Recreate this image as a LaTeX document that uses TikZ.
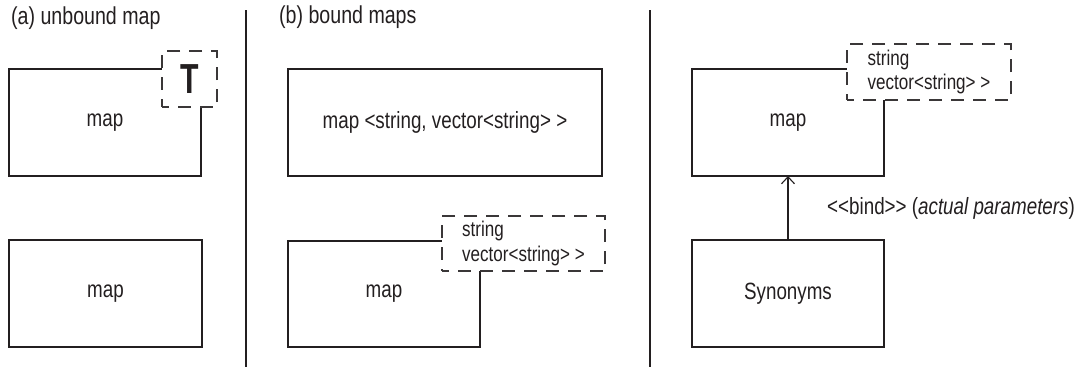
\documentclass[tikz,border=0pt]{standalone}
\usepackage{fontspec}
\setmainfont{Liberation Sans}[FakeStretch=0.8]
\usetikzlibrary{arrows.meta}
\definecolor{ink}{HTML}{231F20}
\definecolor{dashink}{HTML}{3A3738}
\begin{document}
\begin{tikzpicture}[x=1pt,y=-1pt,
  box/.style={draw=ink, line width=1.1pt, inner sep=0pt, outer sep=0pt, text=ink,
    font=\fontsize{23.5}{27}\selectfont},
  tmpl/.style={draw=dashink, line width=1.1pt, dash pattern=on 13pt off 9pt, dash phase=6pt,
    fill=white, inner sep=0pt, outer sep=0pt, text=ink, align=left,
    font=\fontsize{21.3}{24.5}\selectfont},
  title/.style={anchor=west, inner sep=0pt, text=ink, font=\fontsize{24.5}{26}\selectfont},
  sep/.style={draw=ink, line width=1.1pt}]
\useasboundingbox (0,0) rectangle (1086,367);
% separators
\draw[sep] (246,10) -- (246,367);
\draw[sep] (650,10) -- (650,367);
% titles
\node[title] (ta) at (11,18) {(a) unbound map};
\node[title] (tb) at (279,17) {(b) bound maps};
% panel a
\node[box, minimum width=192pt, minimum height=107pt] (a1) at (105,122.5) {map};
\node[tmpl, minimum width=55pt, minimum height=56pt] (ta1) at (189.5,79)
  {\scalebox{0.9}[1]{\fontsize{42}{42}\selectfont\bfseries T}};
\node[box, minimum width=193pt, minimum height=107pt] (a2) at (105.5,293.5) {map};
% panel b
\node[box, minimum width=314pt, minimum height=107pt] (b1) at (445,122.5)
  {map <string, vector<string> >};
\node[box, minimum width=192pt, minimum height=106pt] (b2) at (384,294) {map};
\node[tmpl, minimum width=163pt, minimum height=55pt] (tb2) at (523.5,243.5)
  {string\\vector<string> >};
% panel c
\node[box, minimum width=192pt, minimum height=107pt] (c1) at (788,122.5) {map};
\node[tmpl, minimum width=164pt, minimum height=56pt] (tc1) at (929,72)
  {string\\vector<string> >};
\node[box, minimum width=192pt, minimum height=107pt] (c2) at (788,293.5) {Synonyms};
\draw[draw=ink, line width=1.1pt, -{Straight Barb[length=7pt,width=13pt,line width=1.1pt]}]
  (c2) -- (c1);
\node[title, font=\fontsize{23.5}{26}\selectfont] (bind) at (827,208)
  {<{}<bind>{}> (\textit{actual parameters})};
\end{tikzpicture}
\end{document}
